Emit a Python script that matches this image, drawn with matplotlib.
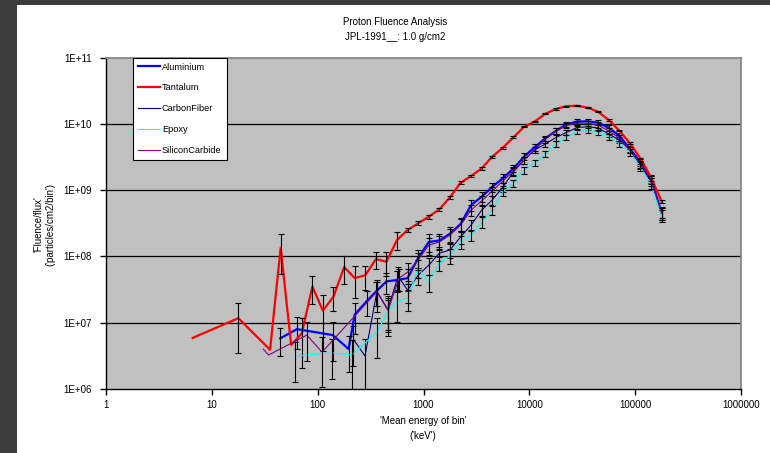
import matplotlib
matplotlib.use('Agg')
import matplotlib.pyplot as plt
from matplotlib.patches import Rectangle
from matplotlib.lines import Line2D
import numpy as np

plt.rcParams['font.family'] = ['Liberation Sans', 'DejaVu Sans']

# ---------------- data ----------------
series_names = ['Aluminium', 'Tantalum', 'CarbonFiber', 'Epoxy', 'SiliconCarbide']

energy_hi = [708, 891, 1122, 1413, 1778, 2239, 2818, 3548, 4467, 5623, 7079, 8913,
             11220, 14125, 17783, 22387, 28184, 35481, 44668, 56234, 70795, 89125,
             112202, 141254, 177828]

# Aluminium
al_energy_lo = [44.3, 63.8, 139, 196, 224, 293, 355, 447, 562]
al_lo = [5.8e6, 8.0e6, 6.5e6, 4.0e6, 1.33e7, 2.14e7, 2.94e7, 4.2e7, 4.4e7]
al_hi = [4.7e7, 9.5e7, 1.65e8, 1.74e8, 2.2e8, 3.08e8, 5.96e8, 7.94e8, 1.12e9, 1.51e9,
         2.12e9, 3.19e9, 4.43e9, 6.04e9, 7.79e9, 9.8e9, 1.08e10, 1.09e10, 1.04e10,
         8.7e9, 6.6e9, 4.2e9, 2.65e9, 1.47e9, 4.5e8]
al_err_lo = [0.45, 0.5, 0.6, 0.55, 0.5, 0.4, 0.4, 0.35, 0.35]

# Tantalum
ta_energy_lo = [6.6, 17.8, 35.5, 44.7, 56.2, 70.8, 89.1, 112, 141, 178, 224, 282, 355, 447, 562]
ta_lo = [5.9e6, 1.17e7, 3.9e6, 1.35e8, 4.6e6, 6.9e6, 3.5e7, 1.52e7, 2.47e7, 6.9e7,
         4.7e7, 5.2e7, 9.1e7, 8.3e7, 1.77e8]
ta_hi = [2.5e8, 3.16e8, 3.97e8, 5.13e8, 7.78e8, 1.29e9, 1.63e9, 2.13e9, 3.19e9, 4.37e9,
         6.25e9, 9.0e9, 1.08e10, 1.41e10, 1.67e10, 1.85e10, 1.87e10, 1.75e10, 1.52e10,
         1.14e10, 7.9e9, 5.1e9, 3.0e9, 1.56e9, 6.7e8]
ta_err_lo = [0.0, 0.7, 0.0, 0.6, 0.0, 0.7, 0.45, 0.75, 0.4, 0.45, 0.5, 0.4, 0.3, 0.4, 0.3]
ta_err_hi = [0.08, 0.07, 0.07, 0.06, 0.05, 0.05, 0.04, 0.04, 0.03, 0.03, 0.03, 0.02,
             0.02, 0.02, 0.02, 0.02, 0.02, 0.02, 0.02, 0.02, 0.02, 0.03, 0.03, 0.04, 0.06]

# CarbonFiber
cf_energy_lo = [218, 280, 363, 459, 575]
cf_lo = [5.6e6, 3.15e6, 2.94e7, 1.56e7, 5.0e7]
cf_hi = [3.1e7, 5.2e7, 7.4e7, 1.12e8, 1.25e8, 1.96e8, 2.97e8, 5.0e8, 7.1e8, 1.11e9,
         1.88e9, 2.85e9, 4.03e9, 4.96e9, 6.2e9, 7.4e9, 8.8e9, 9.0e9, 8.7e9, 7.0e9,
         5.7e9, 4.03e9, 2.39e9, 1.34e9, 4.7e8]
cf_err_lo = [0.6, 0.8, 0.5, 0.6, 0.4]

# Epoxy
ep_energy_lo = [61.6, 137, 211, 365, 459, 562]
ep_lo = [3.15e6, 3.5e6, 3.26e6, 7.3e6, 1.47e7, 2.07e7]
ep_hi = [2.33e7, 6.7e7, 4.1e7, 7.9e7, 1.03e8, 1.65e8, 2.1e8, 3.3e8, 5.0e8, 9.5e8,
         1.27e9, 2.0e9, 2.56e9, 3.5e9, 4.96e9, 6.3e9, 7.6e9, 7.9e9, 7.4e9, 6.4e9,
         5.0e9, 3.7e9, 2.23e9, 1.19e9, 4.2e8]
ep_err_lo = [0.6, 0.6, 0.7, 0.6, 0.5, 0.5]

# SiliconCarbide
sc_energy_lo = [30.6, 34.4, 79, 110, 363, 465, 587]
sc_lo = [4.0e6, 3.26e6, 6.5e6, 3.6e6, 2.94e7, 1.56e7, 4.7e7]
sc_hi = [5.8e7, 8.8e7, 1.48e8, 1.65e8, 2.1e8, 2.97e8, 5.0e8, 6.9e8, 9.7e8, 1.37e9,
         1.94e9, 2.85e9, 4.03e9, 5.8e9, 7.8e9, 9.4e9, 1.02e10, 1.02e10, 9.6e9, 7.8e9,
         6.1e9, 4.03e9, 2.48e9, 1.42e9, 4.5e8]
sc_err_lo = [0.0, 0.0, 0.6, 0.7, 0.4, 0.5, 0.35]

thin_err_hi = [0.35, 0.3, 0.3, 0.25, 0.25, 0.22, 0.2, 0.18, 0.16, 0.15, 0.13, 0.12,
               0.11, 0.1, 0.1, 0.09, 0.09, 0.09, 0.09, 0.1, 0.1, 0.11, 0.12, 0.14, 0.2]

x_ticks = [1, 10, 100, 1000, 10000, 100000, 1000000]
x_tick_labels = ['1', '10', '100', '1000', '10000', '100000', '1000000']
y_ticks = [1e6, 1e7, 1e8, 1e9, 1e10, 1e11]
y_tick_labels = ['1E+06', '1E+07', '1E+08', '1E+09', '1E+10', '1E+11']

# ---------------- figure ----------------
W, H = 770, 453
fig = plt.figure(figsize=(W / 100, H / 100), dpi=100)
fig.patch.set_facecolor('white')
fig.patches.append(Rectangle((0, 0), 17 / W, 1, transform=fig.transFigure,
                             facecolor='#3c3c3c', edgecolor='none', zorder=0))
fig.patches.append(Rectangle((0, 1 - 5 / H), 1, 5 / H, transform=fig.transFigure,
                             facecolor='#3c3c3c', edgecolor='none', zorder=0))

left, right, top, bottom = 106, 741, 57.5, 389
ax = fig.add_axes([left / W, 1 - bottom / H, (right - left) / W, (bottom - top) / H])
ax.set_facecolor('#c0c0c0')
ax.set_xscale('log')
ax.set_yscale('log')
ax.set_xlim(1, 1e6)
ax.set_ylim(1e6, 1e11)

for yv in y_ticks[1:-1]:
    ax.axhline(yv, color='black', lw=0.9, zorder=1)

specs = [
    (al_energy_lo, al_lo, al_hi, al_err_lo, thin_err_hi, '#0000ff', 1.6),
    (ta_energy_lo, ta_lo, ta_hi, ta_err_lo, ta_err_hi, '#ff0000', 1.6),
    (cf_energy_lo, cf_lo, cf_hi, cf_err_lo, thin_err_hi, '#000080', 0.8),
    (ep_energy_lo, ep_lo, ep_hi, ep_err_lo, thin_err_hi, '#00ffff', 0.8),
    (sc_energy_lo, sc_lo, sc_hi, sc_err_lo, thin_err_hi, '#800080', 0.8),
]
handles = []
for i, (elo, flo, fhi, rlo, rhi, col, lw) in enumerate(specs):
    E = np.array(elo + energy_hi, dtype=float)
    F = np.array(flo + fhi, dtype=float)
    R = np.array(rlo + rhi, dtype=float)
    ax.plot(E, F, color=col, lw=lw, zorder=2 + i * 0.1)
    m = R > 0
    ax.errorbar(E[m], F[m], yerr=F[m] * R[m], fmt='none', ecolor='black',
                elinewidth=0.8, capsize=2.5, capthick=0.8, zorder=2.05 + i * 0.1)
    handles.append(Line2D([0], [0], color=col, lw=lw))

ax.xaxis.set_major_locator(matplotlib.ticker.FixedLocator(x_ticks))
ax.set_xticklabels(x_tick_labels)
ax.yaxis.set_major_locator(matplotlib.ticker.FixedLocator(y_ticks))
ax.set_yticklabels(y_tick_labels)
ax.xaxis.set_minor_locator(matplotlib.ticker.NullLocator())
ax.yaxis.set_minor_locator(matplotlib.ticker.NullLocator())
ax.tick_params(axis='both', direction='out', length=4, width=1, labelsize=7,
               colors='black')
ax.tick_params(axis='x', pad=4)
ax.tick_params(axis='y', pad=6)

for s in ['left', 'bottom']:
    ax.spines[s].set_color('black')
    ax.spines[s].set_linewidth(1)
for s in ['top', 'right']:
    ax.spines[s].set_color('#808080')
    ax.spines[s].set_linewidth(1.2)

fig.text(395 / W, 1 - 22 / H, 'Proton Fluence Analysis', ha='center', va='center', fontsize=7)
fig.text(395 / W, 1 - 37 / H, 'JPL-1991__: 1.0 g/cm2', ha='center', va='center', fontsize=7)
fig.text(423 / W, 1 - 421 / H, "'Mean energy of bin'", ha='center', va='center', fontsize=7)
fig.text(423 / W, 1 - 436 / H, "('keV')", ha='center', va='center', fontsize=7)
fig.text(39 / W, 1 - 224 / H, "'Fluence/flux'", ha='center', va='center', fontsize=7, rotation=90)
fig.text(50 / W, 1 - 224 / H, "('particles/cm2/bin')", ha='center', va='center', fontsize=7, rotation=90)

leg = ax.legend(handles, series_names, loc='upper left',
                bbox_to_anchor=((133 - left) / (right - left), 1.0), borderaxespad=0,
                fontsize=6.6, frameon=True, fancybox=False, framealpha=1,
                edgecolor='black', handlelength=2.4, handletextpad=0.2,
                labelspacing=1.3, borderpad=0.55)
leg.get_frame().set_linewidth(0.8)
leg.set_zorder(10)

fig.savefig('out.png', dpi=100)
